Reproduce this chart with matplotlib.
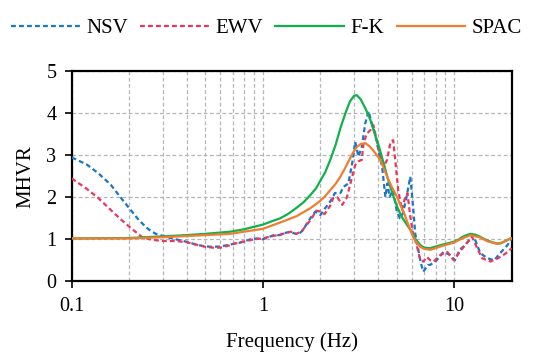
import matplotlib
matplotlib.use("Agg")
import matplotlib.pyplot as plt
from matplotlib.ticker import LogLocator, FixedLocator, NullFormatter

# ---- data ----
nsv_f = [0.1, 0.12, 0.138, 0.16, 0.18, 0.2, 0.225, 0.252, 0.275, 0.3, 0.35, 0.4, 0.45, 0.5, 0.55, 0.6, 0.65,
         0.716, 0.76, 0.86, 0.93, 1.0, 1.07, 1.14, 1.23, 1.3, 1.39, 1.46, 1.54, 1.62, 1.7, 1.8, 1.88, 1.95,
         2.0, 2.1, 2.25, 2.38, 2.44, 2.54, 2.64, 2.8, 2.93, 3.04, 3.16, 3.29, 3.43, 3.57, 3.71, 3.86, 4.03,
         4.2, 4.37, 4.48, 4.6, 4.79, 5.0, 5.2, 5.4, 5.6, 5.9, 6.1, 6.26, 6.5, 6.7, 6.9, 7.3, 7.5, 8.1, 8.8,
         9.5, 10.1, 10.7, 11.4, 12.2, 12.6, 13.2, 13.7, 14.9, 16.2, 17.4, 18.4, 19.0, 20.0]
nsv_v = [2.95, 2.78, 2.57, 2.3, 2.0, 1.74, 1.45, 1.24, 1.13, 1.08, 1.0, 0.94, 0.87, 0.83, 0.82, 0.83, 0.86,
         0.9, 0.92, 1.0, 1.02, 1.0, 1.05, 1.1, 1.1, 1.15, 1.18, 1.14, 1.12, 1.22, 1.38, 1.55, 1.66, 1.6,
         1.58, 1.72, 1.9, 2.1, 2.1, 2.1, 2.25, 2.33, 2.81, 3.32, 2.97, 3.2, 3.76, 4.05, 3.76, 3.52, 3.09,
         2.73, 2.01, 2.33, 2.01, 2.17, 1.7, 1.5, 1.62, 1.94, 2.49, 1.78, 1.14, 0.75, 0.43, 0.23, 0.39, 0.39,
         0.5, 0.7, 0.63, 0.5, 0.75, 0.86, 1.02, 1.1, 0.86, 0.67, 0.55, 0.5, 0.67, 0.79, 0.86, 1.02]

ewv_f = [0.1, 0.12, 0.138, 0.16, 0.18, 0.2, 0.232, 0.26, 0.3, 0.35, 0.4, 0.45, 0.5, 0.55, 0.6, 0.65, 0.716,
         0.8, 0.9, 1.0, 1.1, 1.2, 1.3, 1.4, 1.5, 1.6, 1.7, 1.8, 1.9, 2.0, 2.1, 2.25, 2.33, 2.45, 2.6, 2.75,
         2.93, 3.04, 3.16, 3.29, 3.36, 3.5, 3.65, 3.78, 3.94, 4.1, 4.28, 4.46, 4.65, 4.8, 4.9, 5.1, 5.33,
         5.5, 5.7, 5.9, 6.1, 6.4, 6.66, 6.9, 7.2, 7.5, 7.8, 8.5, 9.2, 9.95, 10.7, 11.6, 12.4, 13.2, 14.0,
         15.5, 17.0, 18.7, 20.0]
ewv_v = [2.45, 2.2, 1.98, 1.7, 1.48, 1.3, 1.06, 0.99, 0.96, 0.96, 0.93, 0.87, 0.82, 0.8, 0.8, 0.84, 0.9,
         0.95, 1.0, 1.02, 1.07, 1.1, 1.14, 1.18, 1.13, 1.2, 1.35, 1.5, 1.68, 1.66, 1.6, 1.8, 1.98, 2.0, 1.82,
         2.0, 2.49, 2.77, 2.86, 2.89, 3.29, 3.52, 3.6, 3.72, 3.36, 2.97, 2.73, 2.89, 3.32, 3.36, 2.97, 2.17,
         1.7, 1.94, 2.1, 1.54, 1.14, 0.82, 0.5, 0.47, 0.58, 0.5, 0.47, 0.63, 0.7, 0.5, 0.7, 0.9, 1.06, 0.79,
         0.55, 0.47, 0.55, 0.67, 0.79]

fk_f = [0.1, 0.2, 0.3, 0.4, 0.5, 0.674, 0.8, 1.0, 1.1, 1.232, 1.35, 1.5, 1.63, 1.768, 1.9, 2.0, 2.12, 2.25,
        2.4, 2.54, 2.7, 2.85, 3.0, 3.1, 3.25, 3.45, 3.65, 3.85, 4.05, 4.28, 4.5, 4.75, 5.03, 5.3, 5.6, 5.91,
        6.1, 6.3, 6.5, 6.66, 6.85, 7.0, 7.51, 8.47, 9.2, 9.95, 10.5, 11.0, 11.6, 12.2, 12.9, 13.7, 14.3,
        15.0, 15.8, 16.8, 17.5, 18.0, 19.0, 19.7, 20.0]
fk_v = [1.02, 1.03, 1.07, 1.1, 1.13, 1.18, 1.24, 1.35, 1.42, 1.5, 1.6, 1.75, 1.88, 2.05, 2.22, 2.4, 2.6, 2.89,
        3.25, 3.64, 4.0, 4.28, 4.42, 4.43, 4.33, 4.1, 3.84, 3.5, 3.2, 2.81, 2.45, 2.1, 1.78, 1.55, 1.38, 1.22,
        1.1, 1.0, 0.92, 0.86, 0.82, 0.8, 0.79, 0.86, 0.9, 0.94, 0.99, 1.05, 1.1, 1.13, 1.11, 1.06, 1.01,
        0.97, 0.93, 0.9, 0.9, 0.93, 0.98, 1.02, 1.02]

spac_f = [0.1, 0.2, 0.3, 0.5, 0.674, 1.0, 1.232, 1.5, 1.768, 1.9, 2.0, 2.12, 2.25, 2.4, 2.54, 2.68, 2.8, 2.95,
          3.1, 3.25, 3.43, 3.6, 3.8, 4.11, 4.3, 4.5, 4.75, 5.03, 5.25, 5.5, 5.7, 5.91, 6.1, 6.3, 6.5, 6.66,
          6.85, 7.0, 7.51, 8.5, 9.95, 11.0, 12.2, 13.7, 15.0, 16.8, 18.0, 19.7, 20.0]
spac_v = [1.02, 1.02, 1.05, 1.1, 1.13, 1.25, 1.4, 1.55, 1.74, 1.84, 1.92, 2.03, 2.17, 2.32, 2.49, 2.68, 2.85,
          3.05, 3.2, 3.27, 3.29, 3.22, 3.1, 2.89, 2.68, 2.45, 2.22, 2.01, 1.8, 1.6, 1.4, 1.22, 1.06, 0.95,
          0.87, 0.82, 0.79, 0.77, 0.75, 0.83, 0.92, 1.02, 1.1, 1.04, 0.95, 0.89, 0.93, 1.02, 1.02]

series_names = ["NSV", "EWV", "F-K", "SPAC"]
x_ticks = [0.1, 1, 10]
x_ticklabels = ["0.1", "1", "10"]
y_ticks = [0, 1, 2, 3, 4, 5]

# ---- plot ----
plt.rcParams["font.family"] = ["Liberation Serif", "DejaVu Serif"]
fig = plt.figure(figsize=(5.33, 3.52), dpi=100)
ax = fig.add_axes([0.1345, 0.2009, 0.8255, 0.5965])

lw = 1.6
ax.plot(nsv_f, nsv_v, color="#1a75c8", lw=lw, dashes=(2.2, 1.4), label=series_names[0], zorder=3)
ax.plot(ewv_f, ewv_v, color="#e8385e", lw=lw, dashes=(2.2, 1.4), label=series_names[1], zorder=3)
ax.plot(fk_f, fk_v, color="#10b04a", lw=lw, label=series_names[2], zorder=4)
ax.plot(spac_f, spac_v, color="#f07d30", lw=lw, label=series_names[3], zorder=5)

ax.set_xscale("log")
ax.set_xlim(0.1, 20)
ax.set_ylim(0, 5)
ax.xaxis.set_major_locator(FixedLocator(x_ticks))
ax.set_xticklabels(x_ticklabels)
ax.xaxis.set_minor_locator(LogLocator(base=10, subs=range(2, 10)))
ax.xaxis.set_minor_formatter(NullFormatter())
ax.set_yticks(y_ticks)

ax.grid(True, which="major", axis="both", color="#b5b5b5", ls=(0, (3, 2)), lw=0.9)
ax.grid(True, which="minor", axis="x", color="#b5b5b5", ls=(0, (3, 2)), lw=0.9)
ax.set_axisbelow(True)

for s in ax.spines.values():
    s.set_linewidth(1.6)
    s.set_color("black")
ax.tick_params(axis="both", which="major", direction="out", length=5, width=1.2, labelsize=14.5, pad=6)
ax.tick_params(axis="x", which="minor", length=0)

ax.set_xlabel("Frequency (Hz)", fontsize=15, labelpad=12)
ax.set_ylabel("MHVR", fontsize=15, labelpad=8)

fig.legend(loc="upper center", bbox_to_anchor=(0.5, 1.0), ncol=4, frameon=False, fontsize=15,
           handlelength=3.3, handletextpad=0.3, columnspacing=0.6)

fig.savefig("out.png", dpi=100)
